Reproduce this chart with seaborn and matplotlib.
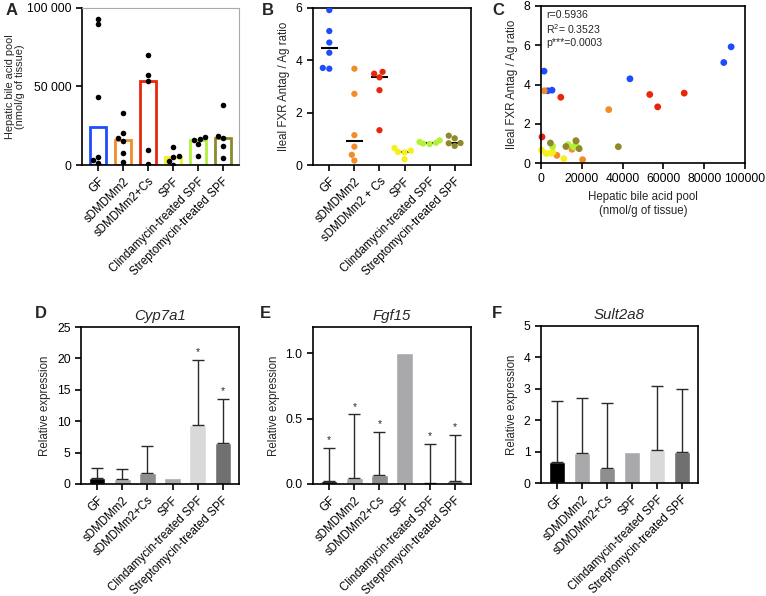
import numpy as np
import pandas as pd
import seaborn as sns
import matplotlib.pyplot as plt
from matplotlib.ticker import FuncFormatter

# group names and colours
groups = ["GF", "sDMDMm2", "sDMDMm2+Cs", "SPF",
          "Clindamycin-treated SPF", "Streptomycin-treated SPF"]
groups_b = ["GF", "sDMDMm2", "sDMDMm2 + Cs", "SPF",
            "Clindamycin-treated SPF", "Streptomycin-treated SPF"]
group_colors = ["#1f4bff", "#f28c28", "#e8260c", "#f5ef1a", "#b2f03a", "#8c8a2b"]
gray_colors = ["#000000", "#a9a9ab", "#8e8e90", "#a9a9ab", "#d9d9d9", "#707070"]

# hepatic bile acid pool (nmol/g) and ileal FXR antag/ag ratio, per mouse
gf_pool = [1500, 3300, 5400, 43600, 89600, 93200]
gf_fxr = [4.68, 3.68, 3.71, 4.29, 5.12, 5.92]
mm2_pool = [1600, 33200, 17100, 15200, 7800, 20400]
mm2_fxr = [3.68, 2.72, 1.14, 0.70, 0.39, 0.17]
cs_pool = [500, 9700, 53300, 57200, 70200]
cs_fxr = [1.33, 3.35, 3.49, 2.86, 3.56]
spf_pool = [300, 2600, 4800, 5800, 11200]
spf_fxr = [0.65, 0.48, 0.50, 0.55, 0.22]
clin_pool = [5700, 13300, 16000, 16800, 18000]
clin_fxr = [0.85, 0.94, 0.82, 0.88, 0.80]
strep_pool = [4600, 12200, 17200, 18700, 37900]
strep_fxr = [1.02, 0.84, 1.12, 0.73, 0.83]

# relative expression: mean and upper error (nan = no error bar)
cyp_mean = [0.96, 0.82, 1.70, 1.00, 9.40, 6.50]
cyp_upper = [2.60, 2.40, 6.10, np.nan, 19.8, 13.6]
cyp_star = [False, False, False, False, True, True]
fgf_mean = [0.026, 0.043, 0.072, 1.00, 0.005, 0.026]
fgf_upper = [0.276, 0.535, 0.40, np.nan, 0.307, 0.378]
fgf_star = [True, True, True, False, True, True]
sult_mean = [0.66, 0.97, 0.47, 1.00, 1.06, 0.99]
sult_upper = [2.60, 2.70, 2.54, np.nan, 3.09, 3.00]
sult_star = [False] * 6

stats_text = "r=0.5936\nR$^2$= 0.3523\np***=0.0003"

# build the long table
pools = [gf_pool, mm2_pool, cs_pool, spf_pool, clin_pool, strep_pool]
fxrs = [gf_fxr, mm2_fxr, cs_fxr, spf_fxr, clin_fxr, strep_fxr]
df = pd.DataFrame({
    "group": np.repeat(groups, [len(p) for p in pools]),
    "pool": np.concatenate(pools),
    "fxr": np.concatenate(fxrs),
})
pal = dict(zip(groups, group_colors))

sns.set_theme(style="ticks")
plt.rcParams["font.family"] = ["Liberation Sans", "DejaVu Sans"]
plt.rcParams.update({
    "axes.linewidth": 1.2, "xtick.major.width": 1.2, "ytick.major.width": 1.2,
    "xtick.major.size": 4, "ytick.major.size": 4,
    "xtick.labelsize": 8.3, "ytick.labelsize": 8.7, "axes.labelsize": 8.3,
    "axes.edgecolor": "black", "xtick.color": "black", "ytick.color": "black",
    "mathtext.default": "regular",
})

fig = plt.figure(figsize=(7.66, 5.96), dpi=100)
W, H = 766, 596


def add_ax(left, top, right, bottom):
    return fig.add_axes([left / W, 1 - bottom / H, (right - left) / W, (bottom - top) / H])


def rotate_labels(ax, labels):
    ax.set_xticks(range(len(labels)))
    ax.set_xticklabels(labels, rotation=45, ha="right", rotation_mode="anchor")
    ax.set_xlabel("")


# ---- A: hepatic bile acid pool
axA = add_ax(82, 8, 239, 165)
sns.barplot(data=df, x="group", y="pool", hue="group", palette=pal, order=groups,
            estimator=np.median, errorbar=None, fill=False, linewidth=2,
            width=0.62, legend=False, ax=axA)
sns.swarmplot(data=df, x="group", y="pool", order=groups, color="black", size=4, ax=axA)
axA.set_ylim(0, 100000)
axA.set_xlim(-0.65, 5.65)
axA.set_yticks([0, 50000, 100000])
axA.yaxis.set_major_formatter(FuncFormatter(lambda v, p: f"{int(v):,}".replace(",", " ")))
axA.set_ylabel("Hepatic bile acid pool\n(nmol/g of tissue)", fontsize=7.9, labelpad=1.5,
               linespacing=1.05)
for s in ["top", "right"]:
    axA.spines[s].set_color("#aaaaaa")
    axA.spines[s].set_linewidth(0.8)
rotate_labels(axA, groups)

# ---- B: ileal FXR ratio
axB = add_ax(313, 8, 471, 165)
sns.swarmplot(data=df, x="group", y="fxr", hue="group", palette=pal, order=groups,
              size=4.5, legend=False, ax=axB)
sns.boxplot(data=df, x="group", y="fxr", order=groups, showbox=False, showcaps=False,
            showfliers=False, whiskerprops={"visible": False},
            medianprops={"color": "black", "linewidth": 1.5}, width=0.7, ax=axB)
axB.set_ylim(0, 6)
axB.set_xlim(-0.65, 5.65)
axB.set_yticks([0, 2, 4, 6])
axB.set_ylabel("Ileal FXR Antag / Ag ratio")
rotate_labels(axB, groups_b)

# ---- C: correlation
axC = add_ax(541, 6, 745, 163)
sns.scatterplot(data=df, x="pool", y="fxr", hue="group", palette=pal, s=24,
                edgecolor="none", legend=False, ax=axC, clip_on=False)
axC.set_xlim(0, 100000)
axC.set_ylim(0, 8)
axC.set_xticks(np.arange(0, 100001, 20000))
axC.set_yticks([0, 2, 4, 6, 8])
axC.tick_params(axis="x", labelsize=8.7)
axC.set_xlabel("Hepatic bile acid pool\n(nmol/g of tissue)")
axC.set_ylabel("Ileal FXR Antag / Ag ratio")
axC.text(0.025, 0.975, stats_text, transform=axC.transAxes, ha="left", va="top",
         fontsize=7.6, linespacing=1.2)


# ---- D, E, F: relative expression bars
def expr_panel(ax, mean, upper, star, title, ylim, yticks, fmt):
    d = pd.DataFrame({"group": groups, "mean": mean, "upper": upper})
    sns.barplot(data=d, x="group", y="mean", hue="group", order=groups,
                palette=dict(zip(groups, gray_colors)), saturation=1,
                errorbar=None, width=0.65, legend=False, ax=ax)
    x = np.arange(len(groups))
    has = ~d["upper"].isna().to_numpy()
    err = (d["upper"] - d["mean"]).to_numpy()
    ax.errorbar(x[has], d["mean"].to_numpy()[has],
                yerr=[np.zeros(has.sum()), err[has]], fmt="none",
                ecolor="#2a2a2a", elinewidth=1, capsize=4, capthick=1)
    for i in range(len(groups)):
        if star[i]:
            ax.text(i, d["upper"][i] + ylim * 0.015, "*", ha="center", va="bottom", fontsize=7.5)
    ax.set_ylim(0, ylim)
    ax.set_xlim(-0.65, 5.65)
    ax.set_yticks(yticks)
    ax.yaxis.set_major_formatter(FuncFormatter(lambda v, p: fmt.format(v)))
    ax.set_ylabel("Relative expression")
    ax.set_title(title, style="italic", fontsize=10.8, pad=5)
    rotate_labels(ax, groups)


axD = add_ax(81, 327, 239, 484)
expr_panel(axD, cyp_mean, cyp_upper, cyp_star, "Cyp7a1", 25, [0, 5, 10, 15, 20, 25], "{:.0f}")
axE = add_ax(313, 327, 471, 484)
expr_panel(axE, fgf_mean, fgf_upper, fgf_star, "Fgf15", 1.2, [0, 0.5, 1.0], "{:.1f}")
axF = add_ax(541, 326, 698, 483)
expr_panel(axF, sult_mean, sult_upper, sult_star, "Sult2a8", 5, [0, 1, 2, 3, 4, 5], "{:.0f}")

# panel letters
for lab, x, y in [("A", 6, 3), ("B", 262, 3), ("C", 492, 3),
                  ("D", 35, 306), ("E", 260, 306), ("F", 492, 306)]:
    fig.text(x / W, 1 - y / H, lab, fontsize=12, fontweight="bold", ha="left", va="top")

fig.savefig("out.png", dpi=100)
